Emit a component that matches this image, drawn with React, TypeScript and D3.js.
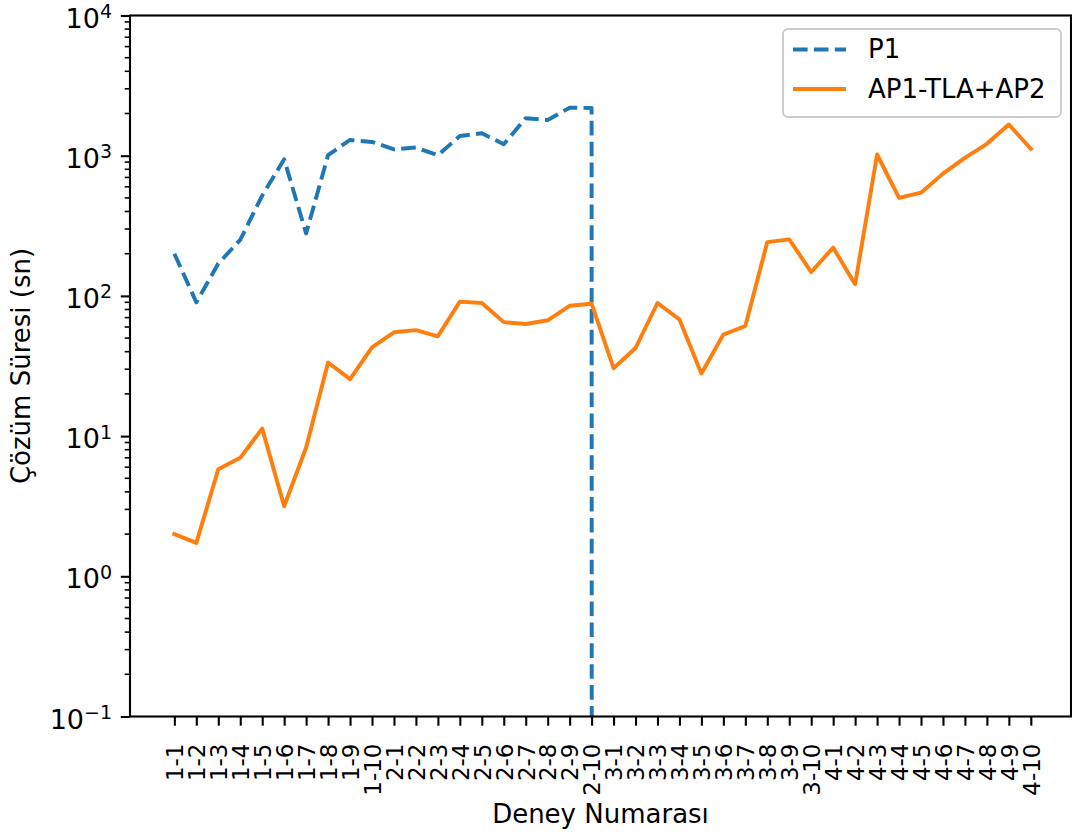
import React, { useEffect, useRef } from 'react';
import * as d3 from 'd3';

const categories = [
    "1-1", "1-2", "1-3", "1-4", "1-5", "1-6", "1-7", "1-8", "1-9", "1-10",
    "2-1", "2-2", "2-3", "2-4", "2-5", "2-6", "2-7", "2-8", "2-9", "2-10",
    "3-1", "3-2", "3-3", "3-4", "3-5", "3-6", "3-7", "3-8", "3-9", "3-10",
    "4-1", "4-2", "4-3", "4-4", "4-5", "4-6", "4-7", "4-8", "4-9", "4-10",
];

// P1 ran out of time after 2-10, recorded as 0 (drops off the log axis)
const p1Values = [
    200, 90, 170, 251, 520, 942, 279, 1010, 1295, 1253,
    1111, 1143, 1007, 1383, 1445, 1207, 1849, 1798, 2200, 2190,
    0, 0, 0, 0, 0, 0, 0, 0, 0, 0,
    0, 0, 0, 0, 0, 0, 0, 0, 0, 0,
];

const apValues = [
    2.0, 1.73, 5.8, 7.0, 11.3, 3.16, 8.3, 33.5, 25.5, 43,
    55, 57, 51.5, 91, 89, 65, 63, 67, 85, 88,
    30.5, 42.5, 89, 68, 28, 53, 61, 242, 253, 148,
    221, 121, 1020, 500, 545, 745, 965, 1215, 1670, 1120,
];

const seriesNames = ["P1", "AP1-TLA+AP2"];
const yExponents = [-1, 0, 1, 2, 3, 4];

const FONT = "DejaVu Sans";

function Chart() {
    const ref = useRef<SVGSVGElement>(null);

    useEffect(() => {
        const svg = d3.select(ref.current);
        svg.selectAll("*").remove();

        const left = 130, right = 1071, top = 15.5, bottom = 716.5;
        const tickLen = 9.2, minorLen = 5.3, axisW = 2.1;

        const x = d3.scaleLinear().domain([-2.02, 40.83]).range([left, right]);
        const y = d3.scaleLog().domain([0.1, 1e4]).range([bottom, top]);

        svg.append("defs").append("clipPath").attr("id", "plotClip")
            .append("rect")
            .attr("x", left).attr("y", top)
            .attr("width", right - left).attr("height", bottom - top);

        // lines
        const line = d3.line<number>()
            .x((d, i) => x(i))
            .y(d => (d > 0 ? y(d) : bottom + 1e5));

        const plot = svg.append("g").attr("clip-path", "url(#plotClip)");

        plot.append("path")
            .datum(p1Values)
            .attr("d", line)
            .attr("fill", "none")
            .attr("stroke", "#1f77b4")
            .attr("stroke-width", 3.95)
            .attr("stroke-dasharray", "14.6 6.3")
            .attr("stroke-linejoin", "round");

        plot.append("path")
            .datum(apValues)
            .attr("d", line)
            .attr("fill", "none")
            .attr("stroke", "#ff7f0e")
            .attr("stroke-width", 3.95)
            .attr("stroke-linejoin", "round")
            .attr("stroke-linecap", "square");

        // x axis
        const xAxis = svg.append("g")
            .attr("transform", `translate(0,${bottom})`)
            .call(d3.axisBottom(x)
                .tickValues(d3.range(categories.length))
                .tickFormat(i => categories[i as number])
                .tickSize(tickLen));
        xAxis.select(".domain").remove();
        xAxis.selectAll(".tick line").attr("stroke", "#000").attr("stroke-width", axisW);
        xAxis.selectAll(".tick text")
            .attr("transform", "rotate(-90)")
            .attr("x", -27)
            .attr("y", 0)
            .attr("dy", "0.36em")
            .attr("text-anchor", "end")
            .attr("fill", "#000")
            .style("font-family", FONT)
            .style("font-size", "23px");

        // y axis: minor ticks
        const minor: number[] = [];
        yExponents.slice(0, -1).forEach(e => {
            for (let k = 2; k <= 9; k++) minor.push(k * Math.pow(10, e));
        });
        svg.append("g").selectAll("line")
            .data(minor)
            .enter().append("line")
            .attr("x1", left - minorLen).attr("x2", left)
            .attr("y1", d => y(d)).attr("y2", d => y(d))
            .attr("stroke", "#000").attr("stroke-width", axisW * 0.75);

        const yAxis = svg.append("g")
            .attr("transform", `translate(${left},0)`)
            .call(d3.axisLeft(y)
                .tickValues(yExponents.map(e => Math.pow(10, e)))
                .tickFormat(() => "")
                .tickSize(tickLen));
        yAxis.select(".domain").remove();
        yAxis.selectAll(".tick line").attr("stroke", "#000").attr("stroke-width", axisW);

        const yLabels = svg.append("g").selectAll("text")
            .data(yExponents)
            .enter().append("text")
            .attr("x", 112)
            .attr("y", e => y(Math.pow(10, e)) + 12)
            .attr("text-anchor", "end")
            .attr("fill", "#000")
            .style("font-family", FONT)
            .style("font-size", "27px");
        yLabels.append("tspan").text("10");
        yLabels.append("tspan")
            .attr("dy", "-0.5em")
            .style("font-size", "19px")
            .text(e => (e < 0 ? "\u2212" + Math.abs(e) : String(e)));

        // spines
        svg.append("rect")
            .attr("x", left).attr("y", top)
            .attr("width", right - left).attr("height", bottom - top)
            .attr("fill", "none")
            .attr("stroke", "#000")
            .attr("stroke-width", axisW);

        // axis labels
        svg.append("text")
            .attr("x", (left + right) / 2)
            .attr("y", 823)
            .attr("text-anchor", "middle")
            .style("font-family", FONT)
            .style("font-size", "26px")
            .text("Deney Numarası");

        svg.append("text")
            .attr("transform", `translate(30,${(top + bottom) / 2}) rotate(-90)`)
            .attr("text-anchor", "middle")
            .style("font-family", FONT)
            .style("font-size", "26px")
            .text("Çözüm Süresi (sn)");

        // legend
        const legend = svg.append("g");
        legend.append("rect")
            .attr("x", 783).attr("y", 29)
            .attr("width", 278).attr("height", 88)
            .attr("rx", 5)
            .attr("fill", "#fff").attr("fill-opacity", 0.8)
            .attr("stroke", "#cccccc").attr("stroke-width", 2);

        const legendItems = [
            { name: seriesNames[0], color: "#1f77b4", dash: "14.6 6.3", cy: 49.5 },
            { name: seriesNames[1], color: "#ff7f0e", dash: null, cy: 89 },
        ];
        legendItems.forEach(d => {
            legend.append("line")
                .attr("x1", 793).attr("x2", 846)
                .attr("y1", d.cy).attr("y2", d.cy)
                .attr("stroke", d.color)
                .attr("stroke-width", 3.95)
                .attr("stroke-dasharray", d.dash);
            legend.append("text")
                .attr("x", 868).attr("y", d.cy + 8.5)
                .style("font-family", FONT)
                .style("font-size", "26px")
                .text(d.name);
        });
    }, []);

    return (
        <svg ref={ref} width={1072} height={837}
            style={{ position: 'absolute', left: 0, top: 0, background: '#fff' }} />
    );
}

export default function App() {
    return <Chart />;
}
